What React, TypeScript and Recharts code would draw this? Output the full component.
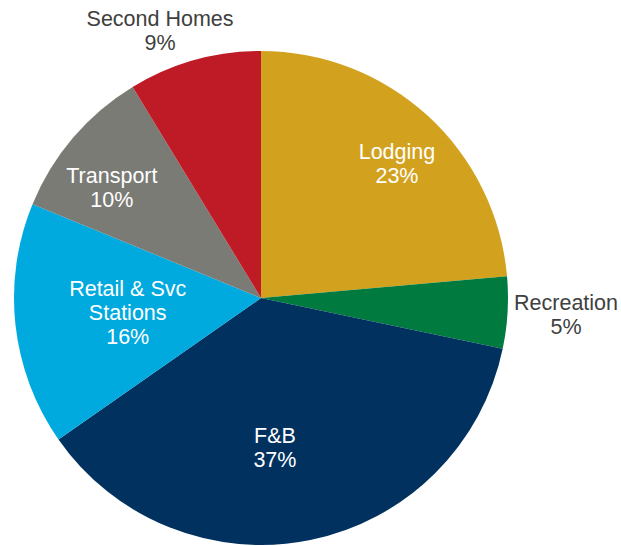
import { Cell, Pie, PieChart } from "recharts";

const categories = ["Lodging", "Recreation", "F&B", "Retail & Svc Stations", "Transport", "Second Homes"];
const shares = [23.6, 4.7, 37.0, 15.9, 10.1, 8.7];
const shareLabels = ["23%", "5%", "37%", "16%", "10%", "9%"];
const labelLines = [["Lodging"], ["Recreation"], ["F&B"], ["Retail & Svc", "Stations"], ["Transport"], ["Second Homes"]];

const colors = ["#D2A21F", "#007A3E", "#00315F", "#00AADE", "#7B7B76", "#BF1B26"];
// label anchor: [fraction of radius, angle in degrees], inside labels white
const labelPlace = [
  [0.773, 44.6],
  [1.237, -3.2],
  [0.611, -84.7],
  [0.543, 186.4],
  [0.75, 143.6],
  [1.156, 110.7],
];
const inside = [true, false, true, true, true, false];

const data = categories.map((name, i) => ({ name, value: shares[i] }));

const RADIAN = Math.PI / 180;

function SliceLabel(props: any) {
  const { cx, cy, outerRadius, index } = props;
  const [f, ang] = labelPlace[index];
  const x = cx + outerRadius * f * Math.cos(ang * RADIAN);
  const y = cy - outerRadius * f * Math.sin(ang * RADIAN);
  const lines = [...labelLines[index], shareLabels[index]];
  const lh = 24;
  const top = y - ((lines.length - 1) * lh) / 2;
  return (
    <text
      x={x}
      y={top}
      textAnchor="middle"
      dominantBaseline="central"
      fill={inside[index] ? "#ffffff" : "#404040"}
      style={{ fontFamily: '"Liberation Sans", Arial, sans-serif', fontSize: 21.5 }}
    >
      {lines.map((t, i) => (
        <tspan key={i} x={x} dy={i === 0 ? 0 : lh}>
          {t}
        </tspan>
      ))}
    </text>
  );
}

export default function App() {
  return (
    <div style={{ position: "absolute", left: 0, top: 0, width: 621, height: 546, background: "#fff" }}>
      <PieChart width={621} height={546} margin={{ top: 0, right: 0, bottom: 0, left: 0 }}>
        <Pie
          data={data}
          dataKey="value"
          cx={261}
          cy={298}
          outerRadius={247}
          startAngle={90}
          endAngle={-270}
          stroke="none"
          labelLine={false}
          label={SliceLabel}
          isAnimationActive={false}
        >
          {data.map((d, i) => (
            <Cell key={d.name} fill={colors[i]} />
          ))}
        </Pie>
      </PieChart>
    </div>
  );
}
